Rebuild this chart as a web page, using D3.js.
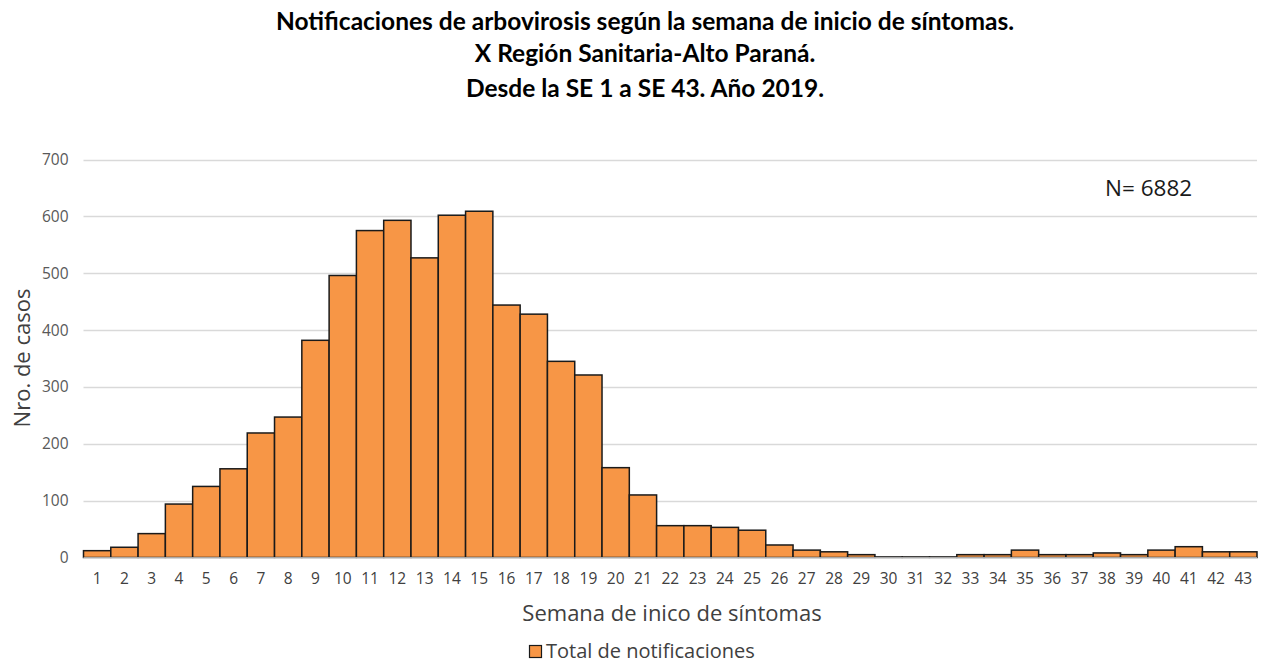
<!DOCTYPE html>
<html>
<head>
<meta charset="utf-8">
<script src="https://cdn.jsdelivr.net/npm/d3@7"></script>
<style>
  html, body { margin: 0; padding: 0; background: #fff; }
  svg { display: block; }
</style>
</head>
<body>
<svg id="chart" width="1261" height="662"></svg>
<script>
const titleLines = [
  "Notificaciones de arbovirosis según la semana de inicio de síntomas.",
  "X Región Sanitaria-Alto Paraná.",
  "Desde la SE 1 a SE 43. Año 2019."
];
const weeks = d3.range(1, 44).map(String);
const counts = [12, 18, 42, 94, 125, 156, 219, 247, 382, 496,
                575, 593, 527, 602, 609, 444, 428, 345, 321, 158,
                110, 56, 56, 53, 48, 22, 13, 10, 5, 1,
                1, 1, 5, 5, 13, 5, 5, 8, 5, 13,
                19, 10, 10];
const yTicks = [0, 100, 200, 300, 400, 500, 600, 700];
const seriesName = "Total de notificaciones";
const xTitle = "Semana de inico de síntomas";
const yTitle = "Nro. de casos";
const nLabel = "N= 6882";

const svg = d3.select("#chart");
const margin = { left: 83.5, right: 4, top: 159.5, bottom: 104.5 };
const W = 1261, H = 662;
const labelFont = "'Open Sans', 'Noto Sans', sans-serif";

const x = d3.scaleBand().domain(weeks).range([margin.left, W - margin.right]).padding(0);
const y = d3.scaleLinear().domain([0, 700]).range([H - margin.bottom, margin.top]);

// title
const titleY = [30, 62, 97];
const title = svg.append("g");
titleLines.forEach((t, i) => {
  title.append("text")
    .attr("x", 645).attr("y", titleY[i])
    .attr("text-anchor", "middle")
    .attr("font-family", "Lato, 'Open Sans', sans-serif")
    .attr("font-weight", "bold")
    .attr("font-size", 24.5)
    .attr("fill", "#000")
    .text(t);
});

// gridlines
svg.append("g")
  .selectAll("line")
  .data(yTicks.filter(d => d > 0))
  .join("line")
  .attr("x1", margin.left).attr("x2", W - margin.right)
  .attr("y1", d => Math.round(y(d)) + 0.5).attr("y2", d => Math.round(y(d)) + 0.5)
  .attr("stroke", "#d9d9d9").attr("stroke-width", 1.3);

// y axis
const yAxis = d3.axisLeft(y).tickValues(yTicks).tickSize(0).tickPadding(15);
const yg = svg.append("g").attr("transform", `translate(${margin.left},0)`).call(yAxis);
yg.select(".domain").remove();
yg.selectAll("text")
  .attr("font-family", labelFont)
  .attr("font-size", 15.5).attr("fill", "#595959");

// bars
svg.append("g")
  .selectAll("rect")
  .data(counts)
  .join("rect")
  .attr("x", (d, i) => x(weeks[i]))
  .attr("width", x.bandwidth())
  .attr("y", d => y(d))
  .attr("height", d => y(0) - y(d))
  .attr("fill", "#F79646")
  .attr("stroke", "#1a1a1a")
  .attr("stroke-width", 1.5);

// baseline
svg.append("line")
  .attr("x1", margin.left).attr("x2", W - margin.right)
  .attr("y1", y(0) + 0.5).attr("y2", y(0) + 0.5)
  .attr("stroke", "#d9d9d9").attr("stroke-width", 1.3);

// x axis
const xAxis = d3.axisBottom(x).tickSize(0).tickPadding(15);
const xg = svg.append("g").attr("transform", `translate(0,${y(0)})`).call(xAxis);
xg.select(".domain").remove();
xg.selectAll("text")
  .attr("font-family", labelFont)
  .attr("font-size", 15.5).attr("fill", "#404040");

// axis titles
svg.append("text")
  .attr("x", 672).attr("y", 621)
  .attr("text-anchor", "middle")
  .attr("font-family", labelFont)
  .attr("font-size", 22).attr("fill", "#404040")
  .text(xTitle);

svg.append("text")
  .attr("transform", "translate(30,358) rotate(-90)")
  .attr("text-anchor", "middle")
  .attr("font-family", labelFont)
  .attr("font-size", 22).attr("fill", "#404040")
  .text(yTitle);

// N label
svg.append("text")
  .attr("x", 1105).attr("y", 196)
  .attr("font-family", labelFont)
  .attr("font-size", 22.5).attr("fill", "#1a1a1a")
  .text(nLabel);

// legend
const lg = svg.append("g").attr("transform", "translate(529,645)");
lg.append("rect").attr("x", 0.5).attr("y", 0.5).attr("width", 12).attr("height", 12)
  .attr("fill", "#F79646").attr("stroke", "#1a1a1a").attr("stroke-width", 1.2);
lg.append("text").attr("x", 17).attr("y", 12.5)
  .attr("font-family", labelFont)
  .attr("font-size", 20).attr("fill", "#404040")
  .text(seriesName);
</script>
</body>
</html>
